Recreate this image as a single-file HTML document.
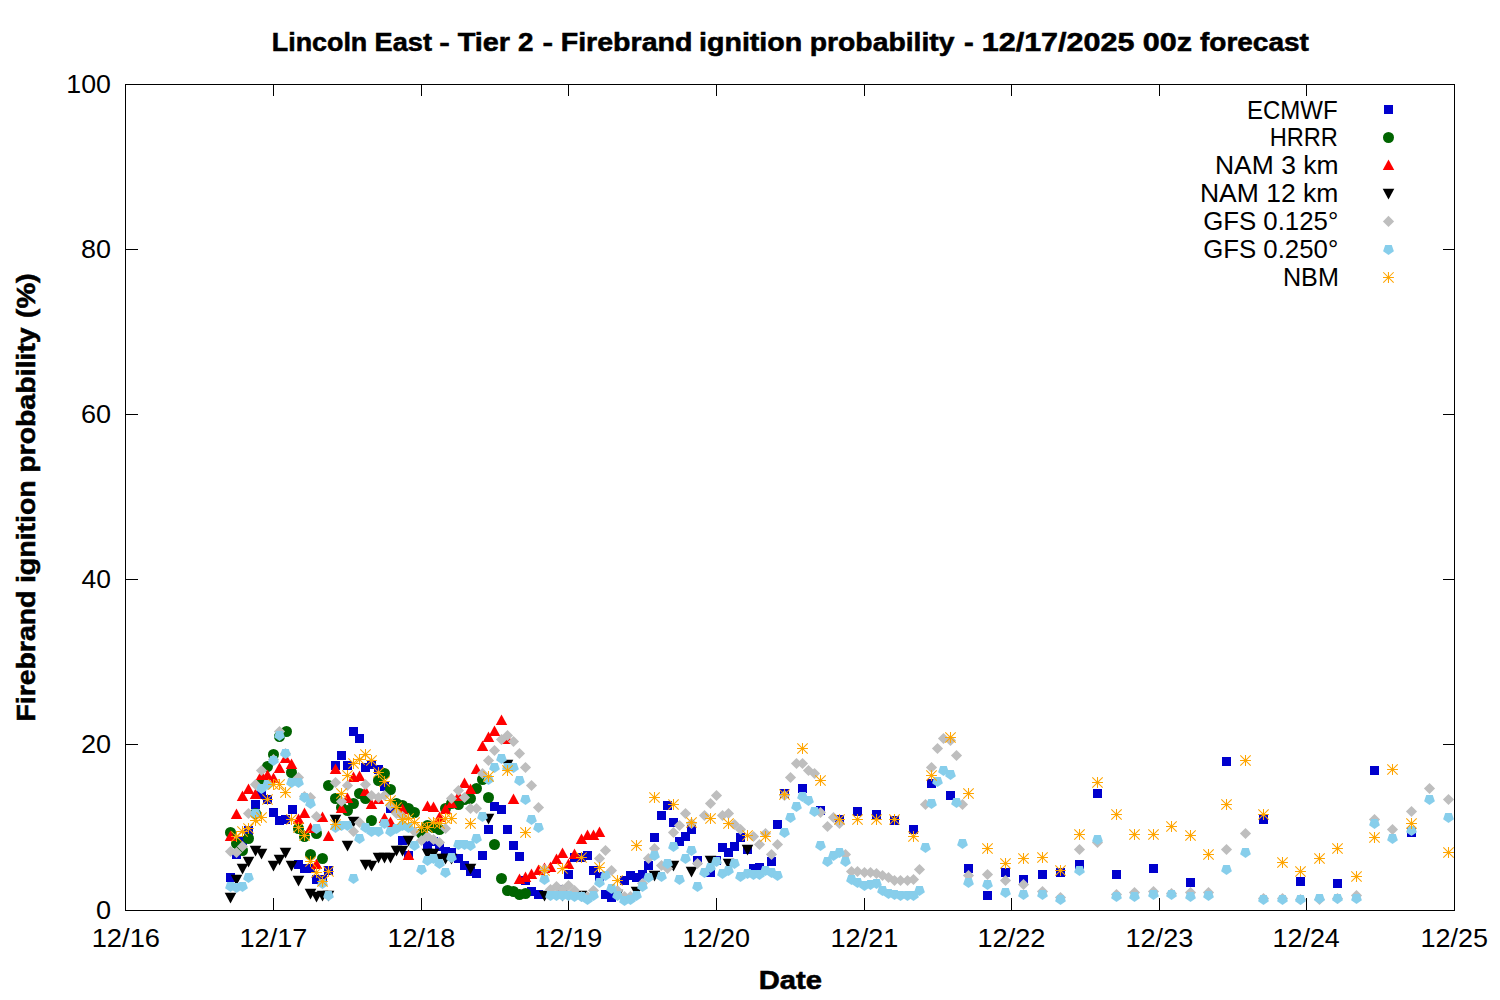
<!DOCTYPE html>
<html><head><meta charset="utf-8">
<style>
html,body{margin:0;padding:0;background:#fff;width:1500px;height:1000px;overflow:hidden}
svg{position:absolute;left:0;top:0;display:block}
text{font-family:"Liberation Sans",sans-serif;fill:#000}
.b{font-weight:bold;stroke:#000;stroke-width:0.55px}
</style></head><body>
<svg width="1500" height="1000" viewBox="0 0 1500 1000">
<defs>
<rect id="sq" x="-4.5" y="-4.5" width="9" height="9" fill="#0000cd"/>
<circle id="ci" r="5.5" fill="#006400"/>
<path id="tu" d="M0 -6.1L5.75 4.5L-5.75 4.5Z" fill="#ff0000"/>
<path id="td" d="M-5.8 -4.7L5.8 -4.7L0 6.1Z" fill="#000"/>
<path id="di" d="M0 -5.6L5.6 0L0 5.6L-5.6 0Z" fill="#bebebe"/>
<path id="pe" d="M-3.25 -4.5L3.25 -4.5L5.4 1.7L0 5.5L-5.4 1.7Z" fill="#87ceeb"/>
<path id="st" d="M-5.45 0h10.9M0 -5.45v10.9M-5.2 -5.2L5.2 5.2M-5.2 5.2L5.2 -5.2" stroke="#ffa500" stroke-width="1.05" fill="none"/>
</defs>
<rect x="0" y="0" width="1500" height="1000" fill="#fff"/>
<text class="b" transform="translate(271.81,51.45) scale(1.0251,1)" font-size="26.2">Lincoln</text>
<text class="b" transform="translate(374.59,51.45) scale(1.0366,1)" font-size="26.2">East</text>
<text class="b" transform="translate(439.19,51.45) scale(1.2075,1)" font-size="26.2">-</text>
<text class="b" transform="translate(457.72,51.45) scale(1.1008,1)" font-size="26.2">Tier</text>
<text class="b" transform="translate(518.07,51.45) scale(1.0614,1)" font-size="26.2">2</text>
<text class="b" transform="translate(542.39,51.45) scale(1.2075,1)" font-size="26.2">-</text>
<text class="b" transform="translate(560.69,51.45) scale(1.0905,1)" font-size="26.2">Firebrand</text>
<text class="b" transform="translate(698.95,51.45) scale(1.0930,1)" font-size="26.2">ignition</text>
<text class="b" transform="translate(809.71,51.45) scale(1.0818,1)" font-size="26.2">probability</text>
<text class="b" transform="translate(963.88,51.45) scale(1.1170,1)" font-size="26.2">-</text>
<text class="b" transform="translate(981.71,51.45) scale(1.1658,1)" font-size="26.2">12/17/2025</text>
<text class="b" transform="translate(1142.73,51.45) scale(1.1652,1)" font-size="26.2">00z</text>
<text class="b" transform="translate(1199.97,51.45) scale(1.0690,1)" font-size="26.2">forecast</text>
<text transform="translate(95.94,918.55) scale(1.0612,1)" font-size="25.6">0</text>
<text transform="translate(80.88,753.41) scale(1.0590,1)" font-size="25.6">20</text>
<text transform="translate(81.55,588.27) scale(1.0344,1)" font-size="25.6">40</text>
<text transform="translate(80.88,423.13) scale(1.0590,1)" font-size="25.6">60</text>
<text transform="translate(81.01,257.99) scale(1.0540,1)" font-size="25.6">80</text>
<text transform="translate(66.31,92.85) scale(1.0465,1)" font-size="25.6">100</text>
<text transform="translate(91.66,946.90) scale(1.0678,1)" font-size="25.6">12/16</text>
<text transform="translate(239.53,946.90) scale(1.0584,1)" font-size="25.6">12/17</text>
<text transform="translate(387.54,946.90) scale(1.0563,1)" font-size="25.6">12/18</text>
<text transform="translate(534.54,946.90) scale(1.0563,1)" font-size="25.6">12/19</text>
<text transform="translate(682.54,946.90) scale(1.0541,1)" font-size="25.6">12/20</text>
<text transform="translate(830.53,946.90) scale(1.0584,1)" font-size="25.6">12/21</text>
<text transform="translate(977.53,946.90) scale(1.0584,1)" font-size="25.6">12/22</text>
<text transform="translate(1125.54,946.90) scale(1.0563,1)" font-size="25.6">12/23</text>
<text transform="translate(1272.55,946.90) scale(1.0498,1)" font-size="25.6">12/24</text>
<text transform="translate(1420.54,946.90) scale(1.0541,1)" font-size="25.6">12/25</text>
<text transform="translate(1246.93,118.50) scale(0.9253,1)" font-size="26.0">ECMWF</text>
<text transform="translate(1269.67,146.40) scale(0.9087,1)" font-size="26.0">HRRR</text>
<text transform="translate(1214.94,174.30) scale(1.0187,1)" font-size="26.0">NAM 3 km</text>
<text transform="translate(1199.93,202.20) scale(1.0205,1)" font-size="26.0">NAM 12 km</text>
<text transform="translate(1203.16,230.10) scale(0.9927,1)" font-size="26.0">GFS 0.125°</text>
<text transform="translate(1203.16,258.00) scale(0.9927,1)" font-size="26.0">GFS 0.250°</text>
<text transform="translate(1282.94,285.90) scale(0.9682,1)" font-size="26.0">NBM</text>
<text class="b" transform="translate(758.75,988.90) scale(1.1141,1)" font-size="26.2">Date</text>
<text class="b" transform="translate(34.6,721.50) rotate(-90) scale(1.0837,1)" font-size="26.2">Firebrand</text>
<text class="b" transform="translate(34.6,583.04) rotate(-90) scale(1.0864,1)" font-size="26.2">ignition</text>
<text class="b" transform="translate(34.6,472.80) rotate(-90) scale(1.0856,1)" font-size="26.2">probability</text>
<text class="b" transform="translate(34.6,318.18) rotate(-90) scale(1.1007,1)" font-size="26.2">(%)</text>
<g fill="#000" shape-rendering="crispEdges">
<rect x="126" y="744" width="12" height="1"/>
<rect x="1443" y="744" width="11" height="1"/>
<rect x="126" y="579" width="12" height="1"/>
<rect x="1443" y="579" width="11" height="1"/>
<rect x="126" y="414" width="12" height="1"/>
<rect x="1443" y="414" width="11" height="1"/>
<rect x="126" y="249" width="12" height="1"/>
<rect x="1443" y="249" width="11" height="1"/>
<rect x="273" y="898" width="1" height="12"/>
<rect x="273" y="85" width="1" height="11"/>
<rect x="421" y="898" width="1" height="12"/>
<rect x="421" y="85" width="1" height="11"/>
<rect x="568" y="898" width="1" height="12"/>
<rect x="568" y="85" width="1" height="11"/>
<rect x="716" y="898" width="1" height="12"/>
<rect x="716" y="85" width="1" height="11"/>
<rect x="864" y="898" width="1" height="12"/>
<rect x="864" y="85" width="1" height="11"/>
<rect x="1011" y="898" width="1" height="12"/>
<rect x="1011" y="85" width="1" height="11"/>
<rect x="1159" y="898" width="1" height="12"/>
<rect x="1159" y="85" width="1" height="11"/>
<rect x="1306" y="898" width="1" height="12"/>
<rect x="1306" y="85" width="1" height="11"/>
</g>
<g id="data">
<use href="#sq" x="230.5" y="877.5"/>
<use href="#sq" x="236.5" y="854.5"/>
<use href="#sq" x="242.5" y="840.5"/>
<use href="#sq" x="248.5" y="830.5"/>
<use href="#sq" x="255.5" y="804.5"/>
<use href="#sq" x="261.5" y="794.5"/>
<use href="#sq" x="267.5" y="799.5"/>
<use href="#sq" x="273.5" y="812.5"/>
<use href="#sq" x="279.5" y="820.5"/>
<use href="#sq" x="285.5" y="819.5"/>
<use href="#sq" x="292.5" y="809.5"/>
<use href="#sq" x="298.5" y="864.5"/>
<use href="#sq" x="304.5" y="868.5"/>
<use href="#sq" x="310.5" y="868.5"/>
<use href="#sq" x="316.5" y="879.5"/>
<use href="#sq" x="322.5" y="879.5"/>
<use href="#sq" x="328.5" y="870.5"/>
<use href="#sq" x="335.5" y="765.5"/>
<use href="#sq" x="341.5" y="755.5"/>
<use href="#sq" x="347.5" y="765.5"/>
<use href="#sq" x="353.5" y="731.5"/>
<use href="#sq" x="359.5" y="738.5"/>
<use href="#sq" x="365.5" y="767.5"/>
<use href="#sq" x="371.5" y="764.5"/>
<use href="#sq" x="378.5" y="769.5"/>
<use href="#sq" x="384.5" y="786.5"/>
<use href="#sq" x="390.5" y="808.5"/>
<use href="#sq" x="402.5" y="840.5"/>
<use href="#sq" x="408.5" y="855.5"/>
<use href="#sq" x="427.5" y="845.5"/>
<use href="#sq" x="433.5" y="841.5"/>
<use href="#sq" x="439.5" y="846.5"/>
<use href="#sq" x="445.5" y="851.5"/>
<use href="#sq" x="451.5" y="852.5"/>
<use href="#sq" x="458.5" y="858.5"/>
<use href="#sq" x="464.5" y="865.5"/>
<use href="#sq" x="470.5" y="871.5"/>
<use href="#sq" x="476.5" y="873.5"/>
<use href="#sq" x="482.5" y="855.5"/>
<use href="#sq" x="488.5" y="829.5"/>
<use href="#sq" x="494.5" y="806.5"/>
<use href="#sq" x="501.5" y="809.5"/>
<use href="#sq" x="507.5" y="829.5"/>
<use href="#sq" x="513.5" y="845.5"/>
<use href="#sq" x="519.5" y="856.5"/>
<use href="#sq" x="525.5" y="880.5"/>
<use href="#sq" x="531.5" y="891.5"/>
<use href="#sq" x="538.5" y="894.5"/>
<use href="#sq" x="562.5" y="889.5"/>
<use href="#sq" x="568.5" y="874.5"/>
<use href="#sq" x="574.5" y="857.5"/>
<use href="#sq" x="581.5" y="857.5"/>
<use href="#sq" x="587.5" y="855.5"/>
<use href="#sq" x="593.5" y="870.5"/>
<use href="#sq" x="599.5" y="876.5"/>
<use href="#sq" x="605.5" y="894.5"/>
<use href="#sq" x="611.5" y="897.5"/>
<use href="#sq" x="624.5" y="880.5"/>
<use href="#sq" x="630.5" y="875.5"/>
<use href="#sq" x="636.5" y="877.5"/>
<use href="#sq" x="642.5" y="874.5"/>
<use href="#sq" x="648.5" y="865.5"/>
<use href="#sq" x="654.5" y="837.5"/>
<use href="#sq" x="661.5" y="815.5"/>
<use href="#sq" x="667.5" y="805.5"/>
<use href="#sq" x="673.5" y="822.5"/>
<use href="#sq" x="679.5" y="841.5"/>
<use href="#sq" x="685.5" y="836.5"/>
<use href="#sq" x="691.5" y="829.5"/>
<use href="#sq" x="697.5" y="860.5"/>
<use href="#sq" x="710.5" y="872.5"/>
<use href="#sq" x="716.5" y="860.5"/>
<use href="#sq" x="722.5" y="847.5"/>
<use href="#sq" x="728.5" y="852.5"/>
<use href="#sq" x="734.5" y="846.5"/>
<use href="#sq" x="740.5" y="837.5"/>
<use href="#sq" x="747.5" y="849.5"/>
<use href="#sq" x="753.5" y="868.5"/>
<use href="#sq" x="759.5" y="867.5"/>
<use href="#sq" x="771.5" y="861.5"/>
<use href="#sq" x="777.5" y="824.5"/>
<use href="#sq" x="784.5" y="793.5"/>
<use href="#sq" x="802.5" y="788.5"/>
<use href="#sq" x="820.5" y="810.5"/>
<use href="#sq" x="839.5" y="819.5"/>
<use href="#sq" x="857.5" y="811.5"/>
<use href="#sq" x="876.5" y="814.5"/>
<use href="#sq" x="894.5" y="820.5"/>
<use href="#sq" x="913.5" y="829.5"/>
<use href="#sq" x="931.5" y="783.5"/>
<use href="#sq" x="950.5" y="795.5"/>
<use href="#sq" x="968.5" y="868.5"/>
<use href="#sq" x="987.5" y="895.5"/>
<use href="#sq" x="1005.5" y="872.5"/>
<use href="#sq" x="1023.5" y="879.5"/>
<use href="#sq" x="1042.5" y="874.5"/>
<use href="#sq" x="1060.5" y="872.5"/>
<use href="#sq" x="1079.5" y="864.5"/>
<use href="#sq" x="1097.5" y="793.5"/>
<use href="#sq" x="1116.5" y="874.5"/>
<use href="#sq" x="1153.5" y="868.5"/>
<use href="#sq" x="1190.5" y="882.5"/>
<use href="#sq" x="1226.5" y="761.5"/>
<use href="#sq" x="1263.5" y="819.5"/>
<use href="#sq" x="1300.5" y="881.5"/>
<use href="#sq" x="1337.5" y="883.5"/>
<use href="#sq" x="1374.5" y="770.5"/>
<use href="#sq" x="1411.5" y="832.5"/>
<use href="#ci" x="230.5" y="832.5"/>
<use href="#ci" x="236.5" y="843.5"/>
<use href="#ci" x="242.5" y="850.5"/>
<use href="#ci" x="248.5" y="838.5"/>
<use href="#ci" x="255.5" y="813.5"/>
<use href="#ci" x="261.5" y="783.5"/>
<use href="#ci" x="267.5" y="766.5"/>
<use href="#ci" x="273.5" y="754.5"/>
<use href="#ci" x="279.5" y="736.5"/>
<use href="#ci" x="286.5" y="731.5"/>
<use href="#ci" x="291.5" y="772.5"/>
<use href="#ci" x="298.5" y="828.5"/>
<use href="#ci" x="304.5" y="836.5"/>
<use href="#ci" x="310.5" y="854.5"/>
<use href="#ci" x="316.5" y="833.5"/>
<use href="#ci" x="322.5" y="858.5"/>
<use href="#ci" x="328.5" y="785.5"/>
<use href="#ci" x="335.5" y="798.5"/>
<use href="#ci" x="341.5" y="807.5"/>
<use href="#ci" x="347.5" y="810.5"/>
<use href="#ci" x="353.5" y="803.5"/>
<use href="#ci" x="359.5" y="793.5"/>
<use href="#ci" x="365.5" y="798.5"/>
<use href="#ci" x="371.5" y="820.5"/>
<use href="#ci" x="378.5" y="780.5"/>
<use href="#ci" x="384.5" y="773.5"/>
<use href="#ci" x="390.5" y="789.5"/>
<use href="#ci" x="396.5" y="803.5"/>
<use href="#ci" x="402.5" y="805.5"/>
<use href="#ci" x="408.5" y="808.5"/>
<use href="#ci" x="414.5" y="812.5"/>
<use href="#ci" x="421.5" y="833.5"/>
<use href="#ci" x="427.5" y="825.5"/>
<use href="#ci" x="433.5" y="827.5"/>
<use href="#ci" x="439.5" y="829.5"/>
<use href="#ci" x="445.5" y="808.5"/>
<use href="#ci" x="451.5" y="803.5"/>
<use href="#ci" x="458.5" y="804.5"/>
<use href="#ci" x="464.5" y="799.5"/>
<use href="#ci" x="470.5" y="798.5"/>
<use href="#ci" x="476.5" y="788.5"/>
<use href="#ci" x="482.5" y="779.5"/>
<use href="#ci" x="488.5" y="797.5"/>
<use href="#ci" x="494.5" y="844.5"/>
<use href="#ci" x="501.5" y="878.5"/>
<use href="#ci" x="507.5" y="890.5"/>
<use href="#ci" x="513.5" y="891.5"/>
<use href="#ci" x="519.5" y="894.5"/>
<use href="#ci" x="525.5" y="893.5"/>
<use href="#tu" x="230.5" y="836.5"/>
<use href="#tu" x="236.5" y="814.5"/>
<use href="#tu" x="242.5" y="796.5"/>
<use href="#tu" x="248.5" y="789.5"/>
<use href="#tu" x="255.5" y="794.5"/>
<use href="#tu" x="261.5" y="775.5"/>
<use href="#tu" x="267.5" y="775.5"/>
<use href="#tu" x="273.5" y="778.5"/>
<use href="#tu" x="279.5" y="768.5"/>
<use href="#tu" x="285.5" y="758.5"/>
<use href="#tu" x="291.5" y="764.5"/>
<use href="#tu" x="298.5" y="819.5"/>
<use href="#tu" x="304.5" y="813.5"/>
<use href="#tu" x="310.5" y="828.5"/>
<use href="#tu" x="316.5" y="864.5"/>
<use href="#tu" x="322.5" y="817.5"/>
<use href="#tu" x="328.5" y="836.5"/>
<use href="#tu" x="335.5" y="769.5"/>
<use href="#tu" x="341.5" y="808.5"/>
<use href="#tu" x="347.5" y="798.5"/>
<use href="#tu" x="353.5" y="777.5"/>
<use href="#tu" x="359.5" y="776.5"/>
<use href="#tu" x="365.5" y="791.5"/>
<use href="#tu" x="371.5" y="804.5"/>
<use href="#tu" x="378.5" y="799.5"/>
<use href="#tu" x="384.5" y="818.5"/>
<use href="#tu" x="390.5" y="822.5"/>
<use href="#tu" x="402.5" y="809.5"/>
<use href="#tu" x="408.5" y="855.5"/>
<use href="#tu" x="427.5" y="806.5"/>
<use href="#tu" x="433.5" y="807.5"/>
<use href="#tu" x="439.5" y="817.5"/>
<use href="#tu" x="445.5" y="809.5"/>
<use href="#tu" x="451.5" y="803.5"/>
<use href="#tu" x="458.5" y="796.5"/>
<use href="#tu" x="464.5" y="783.5"/>
<use href="#tu" x="470.5" y="789.5"/>
<use href="#tu" x="476.5" y="769.5"/>
<use href="#tu" x="482.5" y="746.5"/>
<use href="#tu" x="488.5" y="737.5"/>
<use href="#tu" x="494.5" y="731.5"/>
<use href="#tu" x="501.5" y="720.5"/>
<use href="#tu" x="507.5" y="739.5"/>
<use href="#tu" x="513.5" y="799.5"/>
<use href="#tu" x="519.5" y="879.5"/>
<use href="#tu" x="525.5" y="877.5"/>
<use href="#tu" x="531.5" y="874.5"/>
<use href="#tu" x="538.5" y="870.5"/>
<use href="#tu" x="544.5" y="868.5"/>
<use href="#tu" x="550.5" y="867.5"/>
<use href="#tu" x="556.5" y="859.5"/>
<use href="#tu" x="562.5" y="853.5"/>
<use href="#tu" x="568.5" y="864.5"/>
<use href="#tu" x="574.5" y="854.5"/>
<use href="#tu" x="581.5" y="839.5"/>
<use href="#tu" x="587.5" y="835.5"/>
<use href="#tu" x="593.5" y="835.5"/>
<use href="#tu" x="599.5" y="832.5"/>
<use href="#td" x="230.5" y="897.5"/>
<use href="#td" x="236.5" y="879.5"/>
<use href="#td" x="242.5" y="868.5"/>
<use href="#td" x="248.5" y="861.5"/>
<use href="#td" x="255.5" y="850.5"/>
<use href="#td" x="261.5" y="853.5"/>
<use href="#td" x="273.5" y="865.5"/>
<use href="#td" x="279.5" y="859.5"/>
<use href="#td" x="285.5" y="852.5"/>
<use href="#td" x="291.5" y="865.5"/>
<use href="#td" x="298.5" y="880.5"/>
<use href="#td" x="310.5" y="893.5"/>
<use href="#td" x="316.5" y="896.5"/>
<use href="#td" x="322.5" y="895.5"/>
<use href="#td" x="328.5" y="895.5"/>
<use href="#td" x="335.5" y="819.5"/>
<use href="#td" x="347.5" y="845.5"/>
<use href="#td" x="353.5" y="821.5"/>
<use href="#td" x="365.5" y="864.5"/>
<use href="#td" x="371.5" y="865.5"/>
<use href="#td" x="378.5" y="857.5"/>
<use href="#td" x="384.5" y="857.5"/>
<use href="#td" x="390.5" y="857.5"/>
<use href="#td" x="396.5" y="850.5"/>
<use href="#td" x="402.5" y="850.5"/>
<use href="#td" x="408.5" y="840.5"/>
<use href="#td" x="427.5" y="853.5"/>
<use href="#td" x="433.5" y="853.5"/>
<use href="#td" x="439.5" y="858.5"/>
<use href="#td" x="445.5" y="858.5"/>
<use href="#td" x="451.5" y="858.5"/>
<use href="#td" x="470.5" y="868.5"/>
<use href="#td" x="488.5" y="818.5"/>
<use href="#td" x="507.5" y="764.5"/>
<use href="#td" x="544.5" y="895.5"/>
<use href="#td" x="562.5" y="895.5"/>
<use href="#td" x="581.5" y="895.5"/>
<use href="#td" x="617.5" y="894.5"/>
<use href="#td" x="636.5" y="891.5"/>
<use href="#td" x="654.5" y="875.5"/>
<use href="#td" x="673.5" y="865.5"/>
<use href="#td" x="691.5" y="871.5"/>
<use href="#td" x="710.5" y="860.5"/>
<use href="#td" x="728.5" y="863.5"/>
<use href="#td" x="747.5" y="849.5"/>
<use href="#di" x="230.5" y="851.5"/>
<use href="#di" x="236.5" y="852.5"/>
<use href="#di" x="242.5" y="846.5"/>
<use href="#di" x="248.5" y="813.5"/>
<use href="#di" x="255.5" y="784.5"/>
<use href="#di" x="261.5" y="770.5"/>
<use href="#di" x="273.5" y="759.5"/>
<use href="#di" x="279.5" y="731.5"/>
<use href="#di" x="285.5" y="753.5"/>
<use href="#di" x="298.5" y="777.5"/>
<use href="#di" x="304.5" y="796.5"/>
<use href="#di" x="310.5" y="797.5"/>
<use href="#di" x="316.5" y="816.5"/>
<use href="#di" x="335.5" y="782.5"/>
<use href="#di" x="341.5" y="801.5"/>
<use href="#di" x="347.5" y="785.5"/>
<use href="#di" x="353.5" y="831.5"/>
<use href="#di" x="359.5" y="822.5"/>
<use href="#di" x="365.5" y="784.5"/>
<use href="#di" x="371.5" y="795.5"/>
<use href="#di" x="378.5" y="797.5"/>
<use href="#di" x="384.5" y="795.5"/>
<use href="#di" x="390.5" y="805.5"/>
<use href="#di" x="396.5" y="813.5"/>
<use href="#di" x="402.5" y="816.5"/>
<use href="#di" x="414.5" y="831.5"/>
<use href="#di" x="421.5" y="840.5"/>
<use href="#di" x="427.5" y="836.5"/>
<use href="#di" x="433.5" y="839.5"/>
<use href="#di" x="439.5" y="842.5"/>
<use href="#di" x="445.5" y="828.5"/>
<use href="#di" x="451.5" y="798.5"/>
<use href="#di" x="458.5" y="790.5"/>
<use href="#di" x="464.5" y="797.5"/>
<use href="#di" x="470.5" y="808.5"/>
<use href="#di" x="476.5" y="808.5"/>
<use href="#di" x="482.5" y="773.5"/>
<use href="#di" x="488.5" y="760.5"/>
<use href="#di" x="494.5" y="750.5"/>
<use href="#di" x="501.5" y="739.5"/>
<use href="#di" x="507.5" y="735.5"/>
<use href="#di" x="513.5" y="741.5"/>
<use href="#di" x="519.5" y="753.5"/>
<use href="#di" x="525.5" y="767.5"/>
<use href="#di" x="531.5" y="785.5"/>
<use href="#di" x="538.5" y="807.5"/>
<use href="#di" x="544.5" y="869.5"/>
<use href="#di" x="550.5" y="889.5"/>
<use href="#di" x="556.5" y="886.5"/>
<use href="#di" x="562.5" y="889.5"/>
<use href="#di" x="568.5" y="885.5"/>
<use href="#di" x="574.5" y="890.5"/>
<use href="#di" x="581.5" y="896.5"/>
<use href="#di" x="587.5" y="896.5"/>
<use href="#di" x="593.5" y="890.5"/>
<use href="#di" x="599.5" y="858.5"/>
<use href="#di" x="605.5" y="850.5"/>
<use href="#di" x="611.5" y="870.5"/>
<use href="#di" x="617.5" y="890.5"/>
<use href="#di" x="624.5" y="896.5"/>
<use href="#di" x="630.5" y="896.5"/>
<use href="#di" x="642.5" y="883.5"/>
<use href="#di" x="648.5" y="858.5"/>
<use href="#di" x="654.5" y="848.5"/>
<use href="#di" x="661.5" y="865.5"/>
<use href="#di" x="667.5" y="868.5"/>
<use href="#di" x="673.5" y="832.5"/>
<use href="#di" x="679.5" y="825.5"/>
<use href="#di" x="685.5" y="813.5"/>
<use href="#di" x="691.5" y="823.5"/>
<use href="#di" x="697.5" y="863.5"/>
<use href="#di" x="704.5" y="815.5"/>
<use href="#di" x="710.5" y="803.5"/>
<use href="#di" x="716.5" y="795.5"/>
<use href="#di" x="722.5" y="815.5"/>
<use href="#di" x="728.5" y="813.5"/>
<use href="#di" x="734.5" y="824.5"/>
<use href="#di" x="740.5" y="829.5"/>
<use href="#di" x="753.5" y="836.5"/>
<use href="#di" x="759.5" y="844.5"/>
<use href="#di" x="765.5" y="833.5"/>
<use href="#di" x="771.5" y="854.5"/>
<use href="#di" x="777.5" y="844.5"/>
<use href="#di" x="784.5" y="795.5"/>
<use href="#di" x="790.5" y="777.5"/>
<use href="#di" x="796.5" y="763.5"/>
<use href="#di" x="802.5" y="763.5"/>
<use href="#di" x="808.5" y="770.5"/>
<use href="#di" x="814.5" y="773.5"/>
<use href="#di" x="820.5" y="812.5"/>
<use href="#di" x="827.5" y="826.5"/>
<use href="#di" x="833.5" y="817.5"/>
<use href="#di" x="839.5" y="823.5"/>
<use href="#di" x="845.5" y="854.5"/>
<use href="#di" x="851.5" y="871.5"/>
<use href="#di" x="857.5" y="871.5"/>
<use href="#di" x="864.5" y="872.5"/>
<use href="#di" x="870.5" y="872.5"/>
<use href="#di" x="876.5" y="873.5"/>
<use href="#di" x="882.5" y="875.5"/>
<use href="#di" x="888.5" y="877.5"/>
<use href="#di" x="894.5" y="880.5"/>
<use href="#di" x="900.5" y="880.5"/>
<use href="#di" x="907.5" y="880.5"/>
<use href="#di" x="913.5" y="879.5"/>
<use href="#di" x="919.5" y="869.5"/>
<use href="#di" x="925.5" y="804.5"/>
<use href="#di" x="931.5" y="767.5"/>
<use href="#di" x="937.5" y="748.5"/>
<use href="#di" x="943.5" y="738.5"/>
<use href="#di" x="950.5" y="740.5"/>
<use href="#di" x="956.5" y="755.5"/>
<use href="#di" x="962.5" y="804.5"/>
<use href="#di" x="968.5" y="875.5"/>
<use href="#di" x="987.5" y="874.5"/>
<use href="#di" x="1005.5" y="880.5"/>
<use href="#di" x="1023.5" y="884.5"/>
<use href="#di" x="1042.5" y="891.5"/>
<use href="#di" x="1060.5" y="897.5"/>
<use href="#di" x="1079.5" y="849.5"/>
<use href="#di" x="1097.5" y="842.5"/>
<use href="#di" x="1116.5" y="894.5"/>
<use href="#di" x="1134.5" y="892.5"/>
<use href="#di" x="1153.5" y="891.5"/>
<use href="#di" x="1171.5" y="893.5"/>
<use href="#di" x="1190.5" y="892.5"/>
<use href="#di" x="1208.5" y="892.5"/>
<use href="#di" x="1226.5" y="849.5"/>
<use href="#di" x="1245.5" y="833.5"/>
<use href="#di" x="1263.5" y="898.5"/>
<use href="#di" x="1282.5" y="898.5"/>
<use href="#di" x="1300.5" y="899.5"/>
<use href="#di" x="1319.5" y="899.5"/>
<use href="#di" x="1337.5" y="898.5"/>
<use href="#di" x="1356.5" y="895.5"/>
<use href="#di" x="1374.5" y="819.5"/>
<use href="#di" x="1392.5" y="829.5"/>
<use href="#di" x="1411.5" y="811.5"/>
<use href="#di" x="1429.5" y="788.5"/>
<use href="#di" x="1448.5" y="799.5"/>
<use href="#pe" x="230.5" y="886.5"/>
<use href="#pe" x="236.5" y="887.5"/>
<use href="#pe" x="242.5" y="886.5"/>
<use href="#pe" x="248.5" y="877.5"/>
<use href="#pe" x="255.5" y="813.5"/>
<use href="#pe" x="261.5" y="788.5"/>
<use href="#pe" x="267.5" y="784.5"/>
<use href="#pe" x="273.5" y="760.5"/>
<use href="#pe" x="279.5" y="735.5"/>
<use href="#pe" x="285.5" y="753.5"/>
<use href="#pe" x="291.5" y="782.5"/>
<use href="#pe" x="298.5" y="782.5"/>
<use href="#pe" x="304.5" y="797.5"/>
<use href="#pe" x="310.5" y="803.5"/>
<use href="#pe" x="316.5" y="828.5"/>
<use href="#pe" x="322.5" y="883.5"/>
<use href="#pe" x="328.5" y="895.5"/>
<use href="#pe" x="335.5" y="827.5"/>
<use href="#pe" x="341.5" y="825.5"/>
<use href="#pe" x="347.5" y="825.5"/>
<use href="#pe" x="353.5" y="878.5"/>
<use href="#pe" x="359.5" y="838.5"/>
<use href="#pe" x="365.5" y="827.5"/>
<use href="#pe" x="371.5" y="831.5"/>
<use href="#pe" x="378.5" y="831.5"/>
<use href="#pe" x="384.5" y="823.5"/>
<use href="#pe" x="390.5" y="831.5"/>
<use href="#pe" x="396.5" y="828.5"/>
<use href="#pe" x="402.5" y="825.5"/>
<use href="#pe" x="408.5" y="827.5"/>
<use href="#pe" x="414.5" y="845.5"/>
<use href="#pe" x="421.5" y="869.5"/>
<use href="#pe" x="427.5" y="860.5"/>
<use href="#pe" x="433.5" y="858.5"/>
<use href="#pe" x="439.5" y="863.5"/>
<use href="#pe" x="445.5" y="872.5"/>
<use href="#pe" x="451.5" y="857.5"/>
<use href="#pe" x="458.5" y="844.5"/>
<use href="#pe" x="464.5" y="844.5"/>
<use href="#pe" x="470.5" y="845.5"/>
<use href="#pe" x="476.5" y="838.5"/>
<use href="#pe" x="482.5" y="816.5"/>
<use href="#pe" x="488.5" y="779.5"/>
<use href="#pe" x="494.5" y="767.5"/>
<use href="#pe" x="501.5" y="758.5"/>
<use href="#pe" x="507.5" y="767.5"/>
<use href="#pe" x="513.5" y="767.5"/>
<use href="#pe" x="519.5" y="780.5"/>
<use href="#pe" x="525.5" y="799.5"/>
<use href="#pe" x="531.5" y="819.5"/>
<use href="#pe" x="538.5" y="827.5"/>
<use href="#pe" x="544.5" y="879.5"/>
<use href="#pe" x="550.5" y="895.5"/>
<use href="#pe" x="556.5" y="895.5"/>
<use href="#pe" x="562.5" y="895.5"/>
<use href="#pe" x="568.5" y="895.5"/>
<use href="#pe" x="574.5" y="896.5"/>
<use href="#pe" x="581.5" y="896.5"/>
<use href="#pe" x="587.5" y="899.5"/>
<use href="#pe" x="593.5" y="895.5"/>
<use href="#pe" x="599.5" y="882.5"/>
<use href="#pe" x="605.5" y="875.5"/>
<use href="#pe" x="611.5" y="888.5"/>
<use href="#pe" x="617.5" y="895.5"/>
<use href="#pe" x="624.5" y="900.5"/>
<use href="#pe" x="630.5" y="899.5"/>
<use href="#pe" x="636.5" y="895.5"/>
<use href="#pe" x="642.5" y="886.5"/>
<use href="#pe" x="648.5" y="877.5"/>
<use href="#pe" x="654.5" y="855.5"/>
<use href="#pe" x="661.5" y="876.5"/>
<use href="#pe" x="667.5" y="863.5"/>
<use href="#pe" x="673.5" y="846.5"/>
<use href="#pe" x="679.5" y="879.5"/>
<use href="#pe" x="685.5" y="858.5"/>
<use href="#pe" x="691.5" y="850.5"/>
<use href="#pe" x="697.5" y="886.5"/>
<use href="#pe" x="704.5" y="872.5"/>
<use href="#pe" x="710.5" y="867.5"/>
<use href="#pe" x="716.5" y="861.5"/>
<use href="#pe" x="722.5" y="873.5"/>
<use href="#pe" x="728.5" y="870.5"/>
<use href="#pe" x="734.5" y="863.5"/>
<use href="#pe" x="740.5" y="876.5"/>
<use href="#pe" x="747.5" y="873.5"/>
<use href="#pe" x="753.5" y="874.5"/>
<use href="#pe" x="759.5" y="874.5"/>
<use href="#pe" x="765.5" y="870.5"/>
<use href="#pe" x="771.5" y="872.5"/>
<use href="#pe" x="777.5" y="875.5"/>
<use href="#pe" x="784.5" y="832.5"/>
<use href="#pe" x="790.5" y="817.5"/>
<use href="#pe" x="796.5" y="806.5"/>
<use href="#pe" x="802.5" y="796.5"/>
<use href="#pe" x="808.5" y="800.5"/>
<use href="#pe" x="814.5" y="811.5"/>
<use href="#pe" x="820.5" y="845.5"/>
<use href="#pe" x="827.5" y="861.5"/>
<use href="#pe" x="833.5" y="855.5"/>
<use href="#pe" x="839.5" y="852.5"/>
<use href="#pe" x="845.5" y="861.5"/>
<use href="#pe" x="851.5" y="879.5"/>
<use href="#pe" x="857.5" y="882.5"/>
<use href="#pe" x="864.5" y="885.5"/>
<use href="#pe" x="870.5" y="884.5"/>
<use href="#pe" x="876.5" y="883.5"/>
<use href="#pe" x="882.5" y="890.5"/>
<use href="#pe" x="888.5" y="893.5"/>
<use href="#pe" x="894.5" y="894.5"/>
<use href="#pe" x="900.5" y="895.5"/>
<use href="#pe" x="907.5" y="895.5"/>
<use href="#pe" x="913.5" y="895.5"/>
<use href="#pe" x="919.5" y="890.5"/>
<use href="#pe" x="925.5" y="847.5"/>
<use href="#pe" x="931.5" y="803.5"/>
<use href="#pe" x="937.5" y="781.5"/>
<use href="#pe" x="943.5" y="770.5"/>
<use href="#pe" x="950.5" y="774.5"/>
<use href="#pe" x="956.5" y="802.5"/>
<use href="#pe" x="962.5" y="843.5"/>
<use href="#pe" x="968.5" y="882.5"/>
<use href="#pe" x="987.5" y="884.5"/>
<use href="#pe" x="1005.5" y="892.5"/>
<use href="#pe" x="1023.5" y="894.5"/>
<use href="#pe" x="1042.5" y="894.5"/>
<use href="#pe" x="1060.5" y="899.5"/>
<use href="#pe" x="1079.5" y="870.5"/>
<use href="#pe" x="1097.5" y="839.5"/>
<use href="#pe" x="1116.5" y="896.5"/>
<use href="#pe" x="1134.5" y="896.5"/>
<use href="#pe" x="1153.5" y="894.5"/>
<use href="#pe" x="1171.5" y="894.5"/>
<use href="#pe" x="1190.5" y="896.5"/>
<use href="#pe" x="1208.5" y="895.5"/>
<use href="#pe" x="1226.5" y="869.5"/>
<use href="#pe" x="1245.5" y="852.5"/>
<use href="#pe" x="1263.5" y="899.5"/>
<use href="#pe" x="1282.5" y="899.5"/>
<use href="#pe" x="1300.5" y="899.5"/>
<use href="#pe" x="1319.5" y="898.5"/>
<use href="#pe" x="1337.5" y="898.5"/>
<use href="#pe" x="1356.5" y="898.5"/>
<use href="#pe" x="1374.5" y="823.5"/>
<use href="#pe" x="1392.5" y="838.5"/>
<use href="#pe" x="1411.5" y="830.5"/>
<use href="#pe" x="1429.5" y="799.5"/>
<use href="#pe" x="1448.5" y="817.5"/>
<use href="#st" x="236.5" y="836.5"/>
<use href="#st" x="242.5" y="831.5"/>
<use href="#st" x="248.5" y="828.5"/>
<use href="#st" x="255.5" y="820.5"/>
<use href="#st" x="261.5" y="817.5"/>
<use href="#st" x="267.5" y="799.5"/>
<use href="#st" x="273.5" y="784.5"/>
<use href="#st" x="279.5" y="784.5"/>
<use href="#st" x="285.5" y="792.5"/>
<use href="#st" x="291.5" y="819.5"/>
<use href="#st" x="298.5" y="827.5"/>
<use href="#st" x="304.5" y="835.5"/>
<use href="#st" x="310.5" y="861.5"/>
<use href="#st" x="316.5" y="872.5"/>
<use href="#st" x="322.5" y="881.5"/>
<use href="#st" x="328.5" y="871.5"/>
<use href="#st" x="335.5" y="824.5"/>
<use href="#st" x="341.5" y="793.5"/>
<use href="#st" x="347.5" y="775.5"/>
<use href="#st" x="353.5" y="763.5"/>
<use href="#st" x="359.5" y="759.5"/>
<use href="#st" x="365.5" y="754.5"/>
<use href="#st" x="371.5" y="760.5"/>
<use href="#st" x="378.5" y="772.5"/>
<use href="#st" x="384.5" y="781.5"/>
<use href="#st" x="390.5" y="800.5"/>
<use href="#st" x="396.5" y="807.5"/>
<use href="#st" x="402.5" y="819.5"/>
<use href="#st" x="408.5" y="818.5"/>
<use href="#st" x="414.5" y="822.5"/>
<use href="#st" x="421.5" y="827.5"/>
<use href="#st" x="427.5" y="827.5"/>
<use href="#st" x="433.5" y="822.5"/>
<use href="#st" x="439.5" y="823.5"/>
<use href="#st" x="445.5" y="818.5"/>
<use href="#st" x="451.5" y="818.5"/>
<use href="#st" x="470.5" y="823.5"/>
<use href="#st" x="488.5" y="776.5"/>
<use href="#st" x="507.5" y="770.5"/>
<use href="#st" x="525.5" y="832.5"/>
<use href="#st" x="544.5" y="870.5"/>
<use href="#st" x="562.5" y="868.5"/>
<use href="#st" x="581.5" y="857.5"/>
<use href="#st" x="599.5" y="867.5"/>
<use href="#st" x="617.5" y="880.5"/>
<use href="#st" x="636.5" y="845.5"/>
<use href="#st" x="654.5" y="797.5"/>
<use href="#st" x="673.5" y="804.5"/>
<use href="#st" x="691.5" y="822.5"/>
<use href="#st" x="710.5" y="818.5"/>
<use href="#st" x="728.5" y="823.5"/>
<use href="#st" x="747.5" y="835.5"/>
<use href="#st" x="765.5" y="836.5"/>
<use href="#st" x="784.5" y="794.5"/>
<use href="#st" x="802.5" y="748.5"/>
<use href="#st" x="820.5" y="780.5"/>
<use href="#st" x="839.5" y="819.5"/>
<use href="#st" x="857.5" y="819.5"/>
<use href="#st" x="876.5" y="819.5"/>
<use href="#st" x="894.5" y="819.5"/>
<use href="#st" x="913.5" y="836.5"/>
<use href="#st" x="931.5" y="775.5"/>
<use href="#st" x="950.5" y="737.5"/>
<use href="#st" x="968.5" y="793.5"/>
<use href="#st" x="987.5" y="848.5"/>
<use href="#st" x="1005.5" y="863.5"/>
<use href="#st" x="1023.5" y="858.5"/>
<use href="#st" x="1042.5" y="857.5"/>
<use href="#st" x="1060.5" y="870.5"/>
<use href="#st" x="1079.5" y="834.5"/>
<use href="#st" x="1097.5" y="782.5"/>
<use href="#st" x="1116.5" y="814.5"/>
<use href="#st" x="1134.5" y="834.5"/>
<use href="#st" x="1153.5" y="834.5"/>
<use href="#st" x="1171.5" y="826.5"/>
<use href="#st" x="1190.5" y="835.5"/>
<use href="#st" x="1208.5" y="854.5"/>
<use href="#st" x="1226.5" y="804.5"/>
<use href="#st" x="1245.5" y="760.5"/>
<use href="#st" x="1263.5" y="814.5"/>
<use href="#st" x="1282.5" y="862.5"/>
<use href="#st" x="1300.5" y="871.5"/>
<use href="#st" x="1319.5" y="858.5"/>
<use href="#st" x="1337.5" y="848.5"/>
<use href="#st" x="1356.5" y="876.5"/>
<use href="#st" x="1374.5" y="837.5"/>
<use href="#st" x="1392.5" y="769.5"/>
<use href="#st" x="1411.5" y="823.5"/>
<use href="#st" x="1448.5" y="852.5"/>
</g>
<g stroke="#000" stroke-width="1" fill="none" shape-rendering="crispEdges">
<rect x="125.5" y="84.5" width="1329" height="826"/>
</g>
<g id="legendmarks">
<use href="#sq" x="1388.5" y="109.5"/>
<use href="#ci" x="1388.5" y="137.5"/>
<use href="#tu" x="1388.5" y="165.5"/>
<use href="#td" x="1388.5" y="193.5"/>
<use href="#di" x="1388.5" y="221.4"/>
<use href="#pe" x="1388.5" y="249.5"/>
<use href="#st" x="1388.45" y="277.45"/>
</g>
</svg>
</body></html>
